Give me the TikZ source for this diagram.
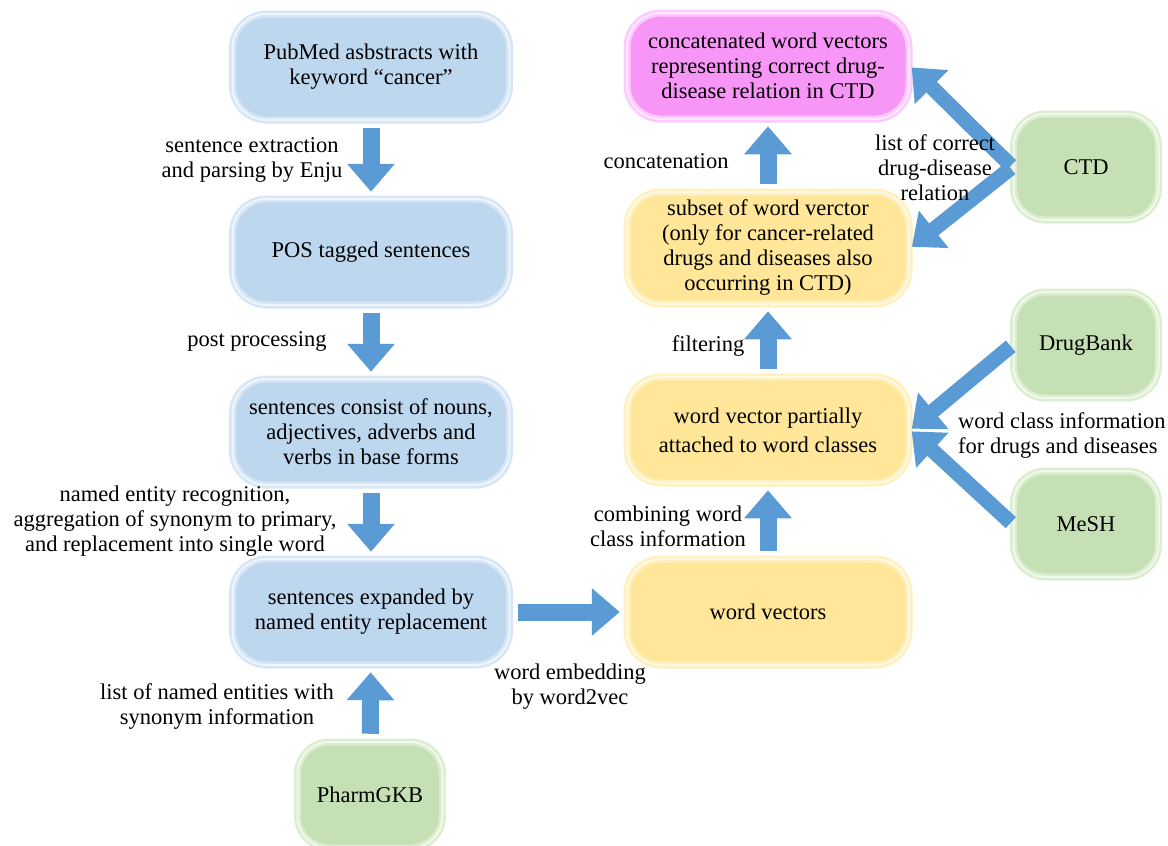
\documentclass[tikz,border=0pt]{standalone}
\usepackage{fontspec}
\setmainfont{Liberation Serif}
\usetikzlibrary{arrows.meta}
\definecolor{bfill}{RGB}{189,215,238}
\definecolor{bedge}{RGB}{214,230,246}
\definecolor{yfill}{RGB}{255,230,153}
\definecolor{yedge}{RGB}{255,240,190}
\definecolor{pfill}{RGB}{248,150,248}
\definecolor{pedge}{RGB}{255,200,255}
\definecolor{gfill}{RGB}{197,224,180}
\definecolor{gedge}{RGB}{220,237,208}
\definecolor{arrowblue}{RGB}{91,155,213}
\newcommand\lblfont{\fontsize{22.5}{25}\selectfont}
\begin{document}
\begin{tikzpicture}[x=1pt,y=-1pt,
  box/.style={rounded corners=34pt, minimum width=277pt, minimum height=106pt,
    align=center, line width=2.5pt, double distance=2pt, inner sep=2pt, font=\lblfont},
  bluebox/.style={box, fill=bfill, draw=bedge, double=white!60!bedge},
  yellowbox/.style={box, fill=yfill, draw=yedge, double=white!60!yedge},
  pinkbox/.style={box, fill=pfill, draw=pedge, double=white!60!pedge, minimum width=282pt},
  greenbox/.style={box, fill=gfill, draw=gedge, double=white!60!gedge, minimum width=145pt, minimum height=106pt, rounded corners=32pt},
  flow/.style={draw=arrowblue, line width=17pt, -{Triangle[length=28pt,width=46pt]},
    shorten <=7pt, shorten >=6pt},
  lbl/.style={align=center, font=\lblfont, inner sep=0pt}
]
\useasboundingbox (0,0) rectangle (1168,846);

% left column
\node[bluebox] (pubmed) at (371,67) {PubMed asbstracts with\\keyword ``cancer''};
\node[bluebox] (pos) at (371,252) {POS tagged sentences};
\node[bluebox] (consist) at (371,432) {sentences consist of nouns,\\adjectives, adverbs and\\verbs in base forms};
\node[bluebox] (expanded) at (371,612) {sentences expanded by\\named entity replacement};
\node[greenbox] (pharm) at (370,795) {PharmGKB};

% right column
\node[pinkbox] (concat) at (768,66) {concatenated word vectors\\representing correct drug-\\disease relation in CTD};
\node[yellowbox, minimum width=282pt, minimum height=112pt] (subset) at (768,248) {subset of word verctor\\(only for cancer-related\\drugs and diseases also\\occurring in CTD)};
\node[yellowbox, minimum width=282pt] (partial) at (768,430) {word vector partially\\[4pt]attached to word classes};
\node[yellowbox, minimum width=282pt] (vectors) at (768,612) {word vectors};

\node[greenbox] (ctd) at (1086,167) {CTD};
\node[greenbox] (drugbank) at (1086,345) {DrugBank};
\node[greenbox] (mesh) at (1086,524) {MeSH};

% arrows
\draw[flow] (pubmed) -- (pos);
\draw[flow] (pos) -- (consist);
\draw[flow] (consist) -- (expanded);
\draw[flow] (pharm) -- (expanded);
\draw[flow] (expanded) -- (vectors);
\draw[flow] (vectors) -- (partial);
\draw[flow] (partial) -- (subset);
\draw[flow] (subset) -- (concat);
\draw[flow, line width=15pt, shorten <=2pt, shorten >=2pt] (ctd.west) -- (concat.east);
\draw[flow, line width=15pt, shorten <=2pt, shorten >=2pt] (ctd.west) -- (subset.east);
\draw[flow, line width=15pt, shorten <=2pt, shorten >=2pt] (drugbank.west) -- (partial.east);
\draw[flow, line width=15pt, shorten <=2pt, shorten >=2pt] (mesh.west) -- (partial.east);

% labels
\node[lbl] (l1) at (252,160) {sentence extraction\\and parsing by Enju};
\node[lbl] (l2) at (257,341) {post processing};
\node[lbl] (l3) at (175,521) {named entity recognition,\\aggregation of synonym to primary,\\and replacement into single word};
\node[lbl] (l4) at (217,706) {list of named entities with\\synonym information};
\node[lbl] (l5) at (570,687) {word embedding\\by word2vec};
\node[lbl] (l6) at (668,526) {combining word\\class information};
\node[lbl] (l7) at (708,346) {filtering};
\node[lbl] (l8) at (666,161) {concatenation};
\node[lbl] (l9) at (935,168) {list of correct\\drug-disease\\relation};
\node[lbl, align=left, anchor=west] (l10) at (958,436) {word class information\\for drugs and diseases};
\end{tikzpicture}
\end{document}
